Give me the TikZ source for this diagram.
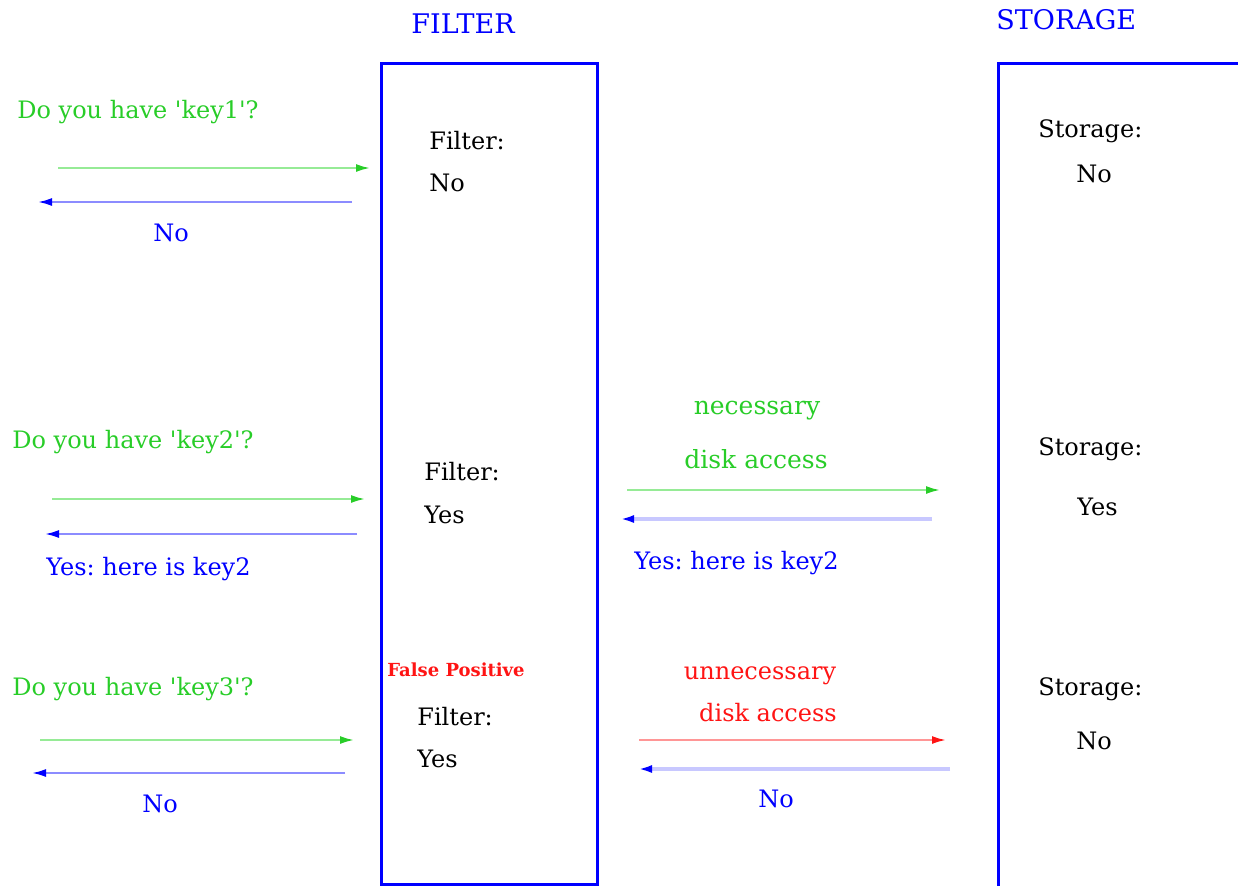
\documentclass[tikz,border=0pt]{standalone}
\usepackage{fontspec}
\setmainfont{DejaVu Serif}[Ligatures=TeXOff]
\usetikzlibrary{arrows.meta}
\definecolor{boxblue}{RGB}{0,0,255}
\definecolor{askgreen}{RGB}{40,205,40}
\definecolor{linegreen}{RGB}{150,235,150}
\definecolor{lineblue}{RGB}{140,140,255}
\definecolor{paleblue}{RGB}{200,200,255}
\definecolor{linered}{RGB}{255,150,150}
\definecolor{alertred}{RGB}{255,20,20}
\tikzset{
  x=0.5pt, y=-0.5pt,
  lbl/.style={anchor=west, inner sep=0pt, font=\frenchspacing\fontsize{12}{14}\selectfont},
  asklbl/.style={lbl, text=askgreen},
  replbl/.style={lbl, text=boxblue},
  boxtxt/.style={lbl, text=black},
  title/.style={anchor=west, inner sep=0pt, text=boxblue, font=\fontsize{13.5}{15}\selectfont},
  column/.style={draw=boxblue, line width=1.5pt},
  askarrow/.style={draw=linegreen, line width=1pt, -{Latex[length=7pt,width=4pt,color=askgreen]}},
  replyarrow/.style={draw=lineblue, line width=1pt, -{Latex[length=7pt,width=4pt,color=boxblue]}},
  diskreply/.style={draw=paleblue, line width=2pt, -{Latex[length=7pt,width=4pt,color=boxblue]}},
  wastearrow/.style={draw=linered, line width=1pt, -{Latex[length=7pt,width=4pt,color=alertred]}},
}
\begin{document}
\begin{tikzpicture}
\useasboundingbox (0,0) rectangle (1238,885);

% the two columns
\draw[column] (381,884) -- (381,63) -- (597,63) -- (597,884) -- cycle;
\draw[column] (1239,63) -- (998,63) -- (998,886);
\node[title] (tfilter) at (411,24) {FILTER};
\node[title] (tstorage) at (996,20) {STORAGE};

% contents of the filter column
\node[boxtxt] (f1) at (429,141) {Filter:};
\node[boxtxt] (f1a) at (429,183) {No};
\node[boxtxt] (f2) at (424,472) {Filter:};
\node[boxtxt] (f2a) at (424,515) {Yes};
\node[anchor=west, inner sep=0pt, text=alertred, font=\fontsize{9}{10}\bfseries] (fp) at (387,670) {False Positive};
\node[boxtxt] (f3) at (417,717) {Filter:};
\node[boxtxt] (f3a) at (417,759) {Yes};

% contents of the storage column
\node[boxtxt] (s1) at (1038,131) {Storage:};
\node[boxtxt] (s1a) at (1076,174) {No};
\node[boxtxt] (s2) at (1038,449) {Storage:};
\node[boxtxt] (s2a) at (1077,507) {Yes};
\node[boxtxt] (s3) at (1038,689) {Storage:};
\node[boxtxt] (s3a) at (1076,741) {No};

% query 1
\node[asklbl] (q1) at (17,112) {Do you have 'key1'?};
\coordinate (q1s) at (58,168);  \coordinate (q1e) at (370,168);
\coordinate (r1s) at (352,202); \coordinate (r1e) at (38,202);
\draw[askarrow] (q1s) -- (q1e);
\draw[replyarrow] (r1s) -- (r1e);
\node[replbl, anchor=center] (a1) at (171,233) {No};

% query 2
\node[asklbl] (q2) at (12,442) {Do you have 'key2'?};
\coordinate (q2s) at (52,499);  \coordinate (q2e) at (365,499);
\coordinate (r2s) at (357,534); \coordinate (r2e) at (45,534);
\draw[askarrow] (q2s) -- (q2e);
\draw[replyarrow] (r2s) -- (r2e);
\node[replbl] (a2) at (46,569) {Yes: here is key2};

\node[asklbl, anchor=center, font=\fontsize{12.5}{14}\selectfont] (d2a) at (757,411) {necessary};
\node[asklbl, anchor=center, font=\fontsize{12.5}{14}\selectfont] (d2b) at (756,459) {disk access};
\coordinate (d2s) at (627,490);  \coordinate (d2e) at (940,490);
\coordinate (g2s) at (932,519);  \coordinate (g2e) at (620,519);
\draw[askarrow] (d2s) -- (d2e);
\draw[diskreply] (g2s) -- (g2e);
\node[replbl] (g2) at (634,563) {Yes: here is key2};

% query 3
\node[asklbl] (q3) at (12,689) {Do you have 'key3'?};
\coordinate (q3s) at (40,740);  \coordinate (q3e) at (354,740);
\coordinate (r3s) at (345,773); \coordinate (r3e) at (32,773);
\draw[askarrow] (q3s) -- (q3e);
\draw[replyarrow] (r3s) -- (r3e);
\node[replbl, anchor=center] (a3) at (160,804) {No};

\node[lbl, text=alertred, anchor=center] (d3a) at (760,676) {unnecessary};
\node[lbl, text=alertred, anchor=center] (d3b) at (768,713) {disk access};
\coordinate (d3s) at (639,740);  \coordinate (d3e) at (946,740);
\coordinate (g3s) at (950,769);  \coordinate (g3e) at (638,769);
\draw[wastearrow] (d3s) -- (d3e);
\draw[diskreply] (g3s) -- (g3e);
\node[replbl, anchor=center] (g3) at (776,799) {No};
\end{tikzpicture}
\end{document}
